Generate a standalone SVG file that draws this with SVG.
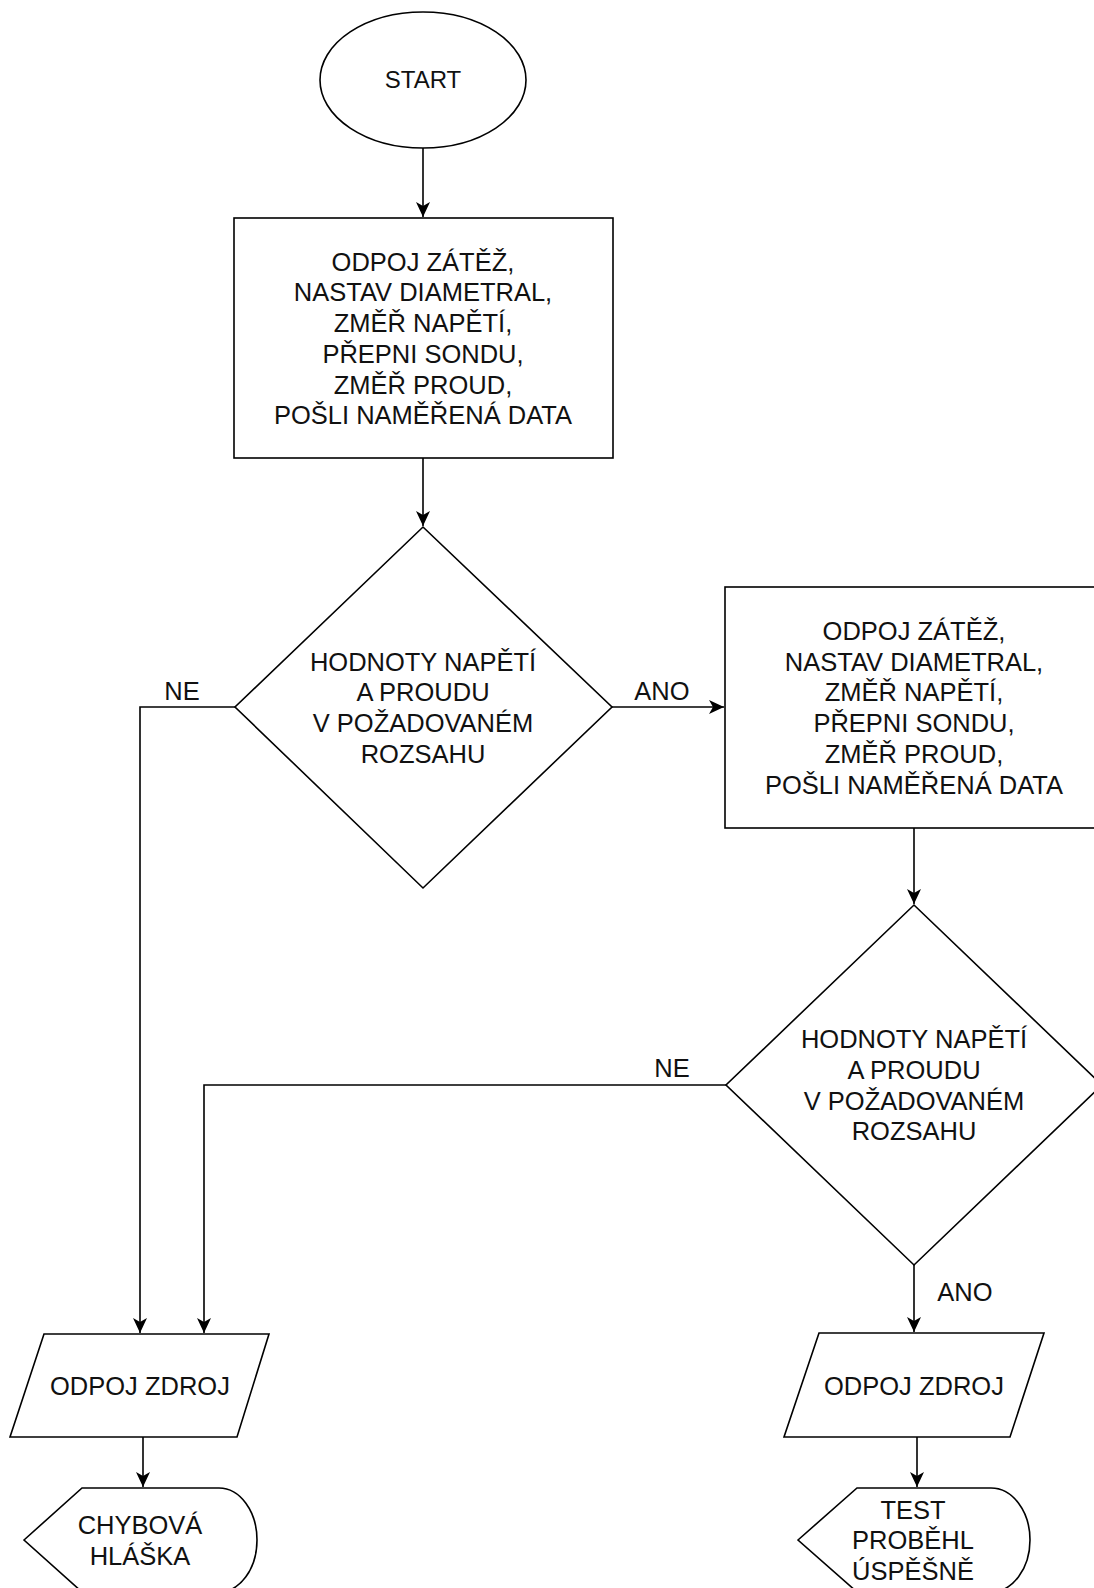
<svg xmlns="http://www.w3.org/2000/svg" width="1094" height="1588" viewBox="0 0 1094 1588">
<style>
.s{fill:#fff;stroke:#000;stroke-width:1.6}
.c{fill:none;stroke:#000;stroke-width:1.6}
text{font-family:"Liberation Sans",Arial,sans-serif;font-size:25.5px;fill:#111;text-anchor:middle}
</style>
<defs>
<marker id="arr" markerUnits="userSpaceOnUse" markerWidth="16" markerHeight="16" refX="15" refY="7" orient="auto">
<path d="M0,0 L15,7 L0,14 L4,7 Z" fill="#000"/>
</marker>
</defs>
<rect width="1094" height="1588" fill="#fff"/>
<g id="connectors">
<path class="c" d="M423,148 L423,217" marker-end="url(#arr)"/>
<path class="c" d="M423,458 L423,526" marker-end="url(#arr)"/>
<path class="c" d="M612,707 L724,707" marker-end="url(#arr)"/>
<path class="c" d="M235,707 L140,707 L140,1333" marker-end="url(#arr)"/>
<path class="c" d="M914,828 L914,904" marker-end="url(#arr)"/>
<path class="c" d="M726,1085 L204,1085 L204,1333" marker-end="url(#arr)"/>
<path class="c" d="M914,1265 L914,1332" marker-end="url(#arr)"/>
<path class="c" d="M143,1437 L143,1487" marker-end="url(#arr)"/>
<path class="c" d="M917,1437 L917,1487" marker-end="url(#arr)"/>
<text x="662" y="700">ANO</text>
<text x="182" y="700">NE</text>
<text x="672" y="1077">NE</text>
<text x="965" y="1301">ANO</text>
</g>
<g id="start">
<ellipse class="s" cx="423" cy="80" rx="103" ry="68"/>
<text x="423" y="88" style="font-size:24px">START</text>
</g>
<g id="process1">
<rect class="s" x="234" y="218" width="379" height="240"/>
<text x="423" y="270.7">ODPOJ ZÁTĚŽ,</text>
<text x="423" y="301.4">NASTAV DIAMETRAL,</text>
<text x="423" y="332.1">ZMĚŘ NAPĚTÍ,</text>
<text x="423" y="362.8">PŘEPNI SONDU,</text>
<text x="423" y="393.5">ZMĚŘ PROUD,</text>
<text x="423" y="424.2">POŠLI NAMĚŘENÁ DATA</text>
</g>
<g id="decision1">
<path class="s" d="M423,527 L612,707 L423,888 L235,707 Z"/>
<text x="423" y="670.6">HODNOTY NAPĚTÍ</text>
<text x="423" y="701.3">A PROUDU</text>
<text x="423" y="732">V POŽADOVANÉM</text>
<text x="423" y="762.7">ROZSAHU</text>
</g>
<g id="process2">
<rect class="s" x="725" y="587" width="379" height="241"/>
<text x="914" y="640">ODPOJ ZÁTĚŽ,</text>
<text x="914" y="670.7">NASTAV DIAMETRAL,</text>
<text x="914" y="701.4">ZMĚŘ NAPĚTÍ,</text>
<text x="914" y="732.1">PŘEPNI SONDU,</text>
<text x="914" y="762.8">ZMĚŘ PROUD,</text>
<text x="914" y="793.5">POŠLI NAMĚŘENÁ DATA</text>
</g>
<g id="decision2">
<path class="s" d="M914,905 L1102,1085 L914,1265 L726,1085 Z"/>
<text x="914" y="1048.1">HODNOTY NAPĚTÍ</text>
<text x="914" y="1078.8">A PROUDU</text>
<text x="914" y="1109.5">V POŽADOVANÉM</text>
<text x="914" y="1140.2">ROZSAHU</text>
</g>
<g id="io1">
<path class="s" d="M44,1334 L269,1334 L237,1437 L10,1437 Z"/>
<text x="140" y="1395">ODPOJ ZDROJ</text>
</g>
<g id="io2">
<path class="s" d="M819,1333 L1044,1333 L1010,1437 L784,1437 Z"/>
<text x="914" y="1395">ODPOJ ZDROJ</text>
</g>
<g id="display1">
<path class="s" d="M24,1540 L82,1488 L219,1488 A38,52 0 0 1 219,1592 L82,1592 Z"/>
<text x="140" y="1533.8">CHYBOVÁ</text>
<text x="140" y="1564.5">HLÁŠKA</text>
</g>
<g id="display2">
<path class="s" d="M798,1540 L857,1488 L991,1488 A39,52 0 0 1 991,1592 L857,1592 Z"/>
<text x="913" y="1518.5">TEST</text>
<text x="913" y="1549.2">PROBĚHL</text>
<text x="913" y="1579.9">ÚSPĚŠNĚ</text>
</g>
</svg>
